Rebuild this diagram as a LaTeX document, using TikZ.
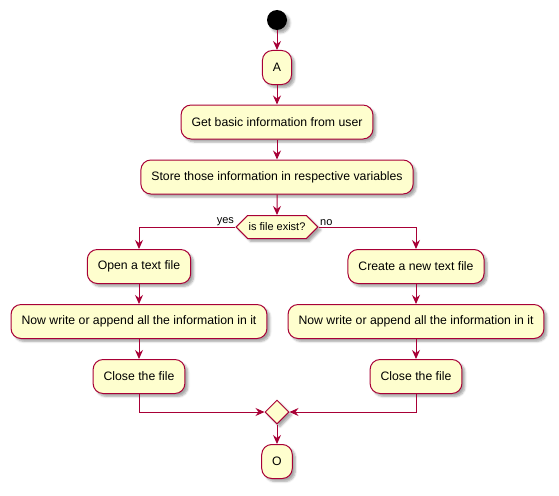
\documentclass[tikz,border=0pt]{standalone}
\usepackage{fontspec}
\setmainfont{Liberation Sans}
\usetikzlibrary{arrows.meta}
\usetikzlibrary{positioning}
\usetikzlibrary{shapes.geometric}
\usetikzlibrary{shapes.symbols}
\usetikzlibrary{shadows.blur}
\definecolor{umlfill}{HTML}{FEFECE}
\definecolor{umlline}{HTML}{A80036}
\tikzset{umlshadow/.style = {blur shadow = {shadow xshift = 3pt, shadow yshift = -3pt,
                                            shadow blur steps = 5, shadow opacity = 35}},
         activity/.style = {draw = umlline, fill = umlfill, line width = 1pt, rounded corners = 10pt,
                            minimum height = 34pt, inner xsep = 10.5pt, font = \fontsize{12.25}{14}\selectfont,
                            umlshadow},
         decision/.style = {draw = umlline, fill = umlfill, line width = 1pt, signal, signal to = west and east,
                            minimum height = 23pt, minimum width = 80pt, inner sep = 1pt,
                            font = \fontsize{11}{13}\selectfont, umlshadow},
         merger/.style = {draw = umlline, fill = umlfill, line width = 1pt, diamond, minimum size = 24pt,
                          inner sep = 0pt, umlshadow},
         flow/.style = {draw = umlline, line width = 1pt, -{Stealth[length = 9pt, width = 8pt, inset = 3pt]}},
         guard/.style = {font = \fontsize{11}{13}\selectfont, inner sep = 1pt}}

\begin{document}
\begin{tikzpicture}[x = 1pt, y = -1pt]
    \useasboundingbox (0, 0) rectangle (559, 495);

    \node [circle, fill = black, minimum size = 20pt, inner sep = 0pt, umlshadow] (start) at (277, 20) {};
    \node [activity] (a) at (277, 67.5) {A};
    \node [activity] (get) at (277, 122) {Get basic information from user};
    \node [activity] (store) at (277, 177) {Store those information in respective variables};
    \node [decision] (exist) at (277, 227) {is file exist?};

    \node [activity] (open) at (139, 266.5) {Open a text file};
    \node [activity] (writeL) at (139, 321.5) {Now write or append all the information in it};
    \node [activity] (closeL) at (139, 376.5) {Close the file};

    \node [activity] (create) at (416, 266.5) {Create a new text file};
    \node [activity] (writeR) at (416, 321.5) {Now write or append all the information in it};
    \node [activity] (closeR) at (416, 376.5) {Close the file};

    \node [merger] (merge) at (277, 412) {};
    \node [activity] (stop) at (277, 461.5) {O};

    \draw [flow] (start) -- (a);
    \draw [flow] (a) -- (get);
    \draw [flow] (get) -- (store);
    \draw [flow] (store) -- (exist);

    \draw [flow] (exist.west) node [guard, above left] {yes} -| (open.north);
    \draw [flow] (exist.east) node [guard, above right] {no} -| (create.north);

    \draw [flow] (open) -- (writeL);
    \draw [flow] (writeL) -- (closeL);
    \draw [flow] (create) -- (writeR);
    \draw [flow] (writeR) -- (closeR);

    \draw [flow] (closeL.south) |- (merge.west);
    \draw [flow] (closeR.south) |- (merge.east);
    \draw [flow] (merge) -- (stop);
\end{tikzpicture}
\end{document}
